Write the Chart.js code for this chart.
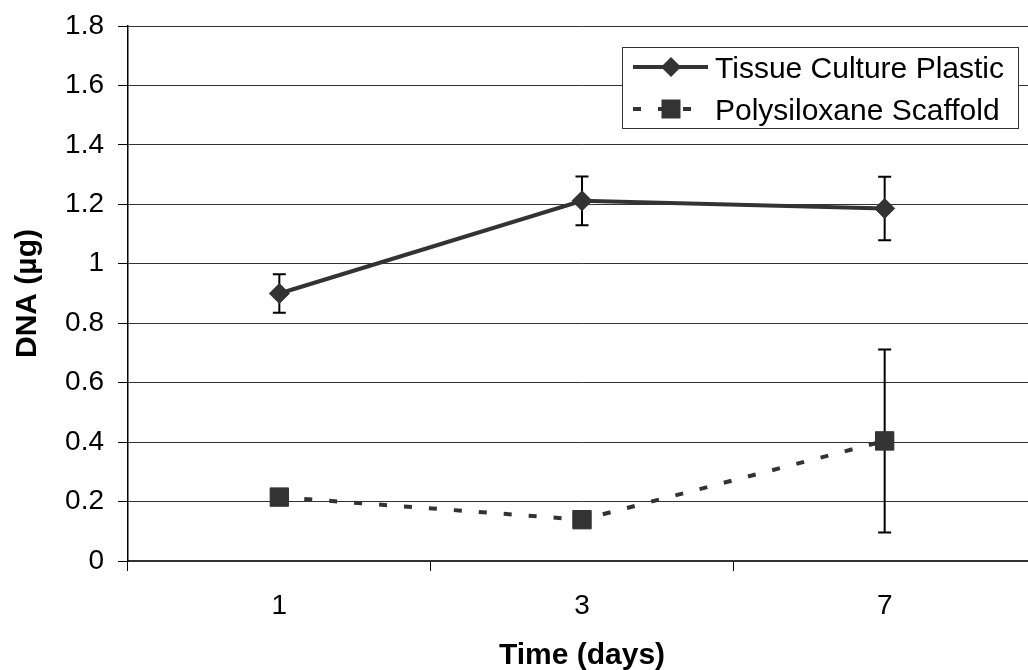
<!DOCTYPE html>
<html>
<head>
<meta charset="utf-8">
<script src="https://cdn.jsdelivr.net/npm/chart.js@4.4.0/dist/chart.umd.min.js"></script>
<style>
  html, body { margin: 0; padding: 0; background: #fff; overflow: hidden; }
  #wrap { width: 1028px; height: 670px; overflow: hidden; }
</style>
</head>
<body>
<div id="wrap"><canvas id="dnaChart" width="1050" height="670"></canvas></div>
<script>
// Time points (days) on the category axis
const days = ["1", "3", "7"];

// DNA content (µg), means
const tissueCulturePlastic = [0.90, 1.212, 1.186];
const polysiloxaneScaffold = [0.215, 0.139, 0.404];

// Error bar half-lengths (µg)
const tissueCulturePlasticErr = [0.065, 0.082, 0.107];
const polysiloxaneScaffoldErr = [0.02, 0.02, 0.308];

const seriesNames = ["Tissue Culture Plastic", "Polysiloxane Scaffold"];

const FONT = "'Liberation Sans', Arial, sans-serif";
const INK = "#333333";

Chart.defaults.font.family = FONT;
Chart.defaults.color = "#000";

/**
 * Draw vertical error bars with caps, under the markers
 */
const errorBars = {
  id: "errorBars",
  beforeDatasetsDraw(chart) {
    const { ctx, scales: { x, y } } = chart;
    ctx.save();
    ctx.strokeStyle = "#000";
    ctx.lineWidth = 2;
    chart.data.datasets.forEach((ds) => {
      ds.errors.forEach((err, i) => {
        const px = x.getPixelForValue(i);
        const top = y.getPixelForValue(ds.data[i] + err);
        const bot = y.getPixelForValue(ds.data[i] - err);
        ctx.beginPath();
        ctx.moveTo(px, top);
        ctx.lineTo(px, bot);
        ctx.moveTo(px - 6.5, top);
        ctx.lineTo(px + 6.5, top);
        ctx.moveTo(px - 6.5, bot);
        ctx.lineTo(px + 6.5, bot);
        ctx.stroke();
      });
    });
    ctx.restore();
  },
};

/**
 * Boxed legend inside the plot, like the Excel one
 */
function drawMarker(ctx, style, x, y) {
  ctx.beginPath();
  if (style === "rectRot") {
    ctx.moveTo(x - 10, y);
    ctx.lineTo(x, y - 10);
    ctx.lineTo(x + 10, y);
    ctx.lineTo(x, y + 10);
    ctx.closePath();
  } else {
    ctx.rect(x - 9.5, y - 9.5, 19, 19);
  }
  ctx.fillStyle = INK;
  ctx.fill();
}

const boxLegend = {
  id: "boxLegend",
  afterDraw(chart) {
    const ctx = chart.ctx;
    const left = 622, top = 47, right = 1018, bottom = 128;
    ctx.save();
    ctx.fillStyle = "#fff";
    ctx.fillRect(left, top, right - left, bottom - top);
    ctx.strokeStyle = "#333";
    ctx.lineWidth = 1;
    ctx.strokeRect(left + 0.5, top + 0.5, right - left, bottom - top);

    const rows = [67, 109];
    const baselines = [78, 120];
    chart.data.datasets.forEach((ds, i) => {
      const y = rows[i];
      ctx.strokeStyle = ds.borderColor;
      ctx.lineWidth = ds.borderWidth;
      ctx.setLineDash(ds.borderDash || []);
      ctx.beginPath();
      ctx.moveTo(633, y);
      ctx.lineTo(708, y);
      ctx.stroke();
      ctx.setLineDash([]);
      drawMarker(ctx, ds.pointStyle, 671, y);

      ctx.fillStyle = "#000";
      ctx.font = "30px " + FONT;
      ctx.textBaseline = "alphabetic";
      ctx.textAlign = "left";
      ctx.fillText(ds.label, 715, baselines[i]);
    });
    ctx.restore();
  },
};

const ctx = document.getElementById("dnaChart").getContext("2d");

new Chart(ctx, {
  type: "line",
  data: {
    labels: days,
    datasets: [
      {
        label: seriesNames[0],
        data: tissueCulturePlastic,
        errors: tissueCulturePlasticErr,
        borderColor: INK,
        borderWidth: 4,
        pointStyle: "rectRot",
        pointRadius: 10,
        pointBackgroundColor: INK,
        pointBorderColor: INK,
        pointBorderWidth: 1,
        tension: 0,
      },
      {
        label: seriesNames[1],
        data: polysiloxaneScaffold,
        errors: polysiloxaneScaffoldErr,
        borderColor: INK,
        borderWidth: 4,
        borderDash: [8, 17],
        pointStyle: "rect",
        pointRadius: 13,
        pointBackgroundColor: INK,
        pointBorderColor: INK,
        pointBorderWidth: 1,
        tension: 0,
      },
    ],
  },
  options: {
    responsive: false,
    animation: false,
    layout: { padding: { top: 26, right: 9, left: 0, bottom: 0 } },
    plugins: {
      legend: { display: false },
      tooltip: { enabled: false },
    },
    scales: {
      x: {
        offset: true,
        grid: {
          offset: true,
          drawOnChartArea: false,
          drawTicks: true,
          tickLength: 10,
          tickColor: "#000",
        },
        border: { color: "#333", width: 2 },
        ticks: { font: { size: 28 }, color: "#000", padding: 18 },
        title: {
          display: true,
          text: "Time (days)",
          font: { size: 30, weight: "bold" },
          color: "#000",
          padding: { top: 0, bottom: -4 },
        },
        afterFit: (scale) => { scale.height = 109; },
      },
      y: {
        min: 0,
        max: 1.8,
        ticks: {
          stepSize: 0.2,
          font: { size: 28 },
          color: "#000",
          padding: 14,
          callback: (v) => String(Math.round(v * 10) / 10),
        },
        grid: {
          color: "#333",
          lineWidth: 1,
          drawTicks: true,
          tickLength: 10,
          tickColor: "#000",
        },
        border: { color: "#000", width: 1.5 },
        title: {
          display: true,
          text: "DNA (µg)",
          font: { size: 30, weight: "bold" },
          color: "#000",
          padding: { top: 10, bottom: 0 },
        },
        afterFit: (scale) => {
          scale.width = 128;
          scale.paddingTop = 0;
          scale.paddingBottom = 0;
        },
      },
    },
  },
  plugins: [errorBars, boxLegend],
});
</script>
</body>
</html>
